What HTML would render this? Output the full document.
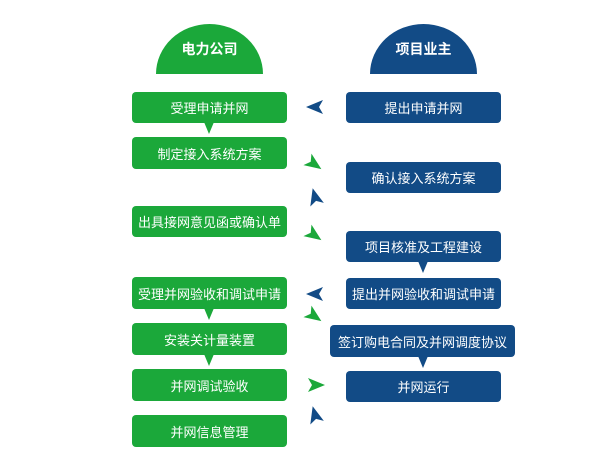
<!DOCTYPE html>
<html><head><meta charset="utf-8"><style>
body{margin:0;width:600px;height:459px;background:#fff;position:relative;overflow:hidden;font-family:"Liberation Sans","Noto Sans CJK SC",sans-serif}
.b{position:absolute;color:#fff;font-size:13px;display:flex;align-items:center;justify-content:center;border-radius:4px}
.g{background:#1ba83a;left:132px;width:155px}
.u{background:#124b86;left:346px;width:155px}
.h{position:absolute;color:#fff;font-weight:bold;font-size:14px;display:flex;align-items:center;justify-content:center;border-radius:50% 50% 0 0/100% 100% 0 0;height:50px;top:24px;width:107px}
svg{position:absolute;left:0;top:0}
</style></head><body>
<div class="h" style="left:156px;background:#1ba83a">电力公司</div>
<div class="h" style="left:370px;background:#124b86">项目业主</div>
<div class="b g" style="top:92px;height:31px">受理申请并网</div>
<div class="b g" style="top:137px;height:32px">制定接入系统方案</div>
<div class="b g" style="top:206px;height:31px">出具接网意见函或确认单</div>
<div class="b g" style="top:277px;height:32px">受理并网验收和调试申请</div>
<div class="b g" style="top:323px;height:32px">安装关计量装置</div>
<div class="b g" style="top:369px;height:32px">并网调试验收</div>
<div class="b g" style="top:415px;height:32px">并网信息管理</div>
<div class="b u" style="top:92px;height:31px">提出申请并网</div>
<div class="b u" style="top:162px;height:31px">确认接入系统方案</div>
<div class="b u" style="top:231px;height:31px">项目核准及工程建设</div>
<div class="b u" style="top:278px;height:31px">提出并网验收和调试申请</div>
<div class="b u" style="top:325px;height:32px;left:330px;width:185px">签订购电合同及并网调度协议</div>
<div class="b u" style="top:371px;height:31px">并网运行</div>
<svg width="600" height="459">
<defs><polygon id="a" points="-8,-7 9,0 -8,7 -4,0"/></defs>
<g fill="#1ba83a">
<polygon points="204,122 214,122 209,134"/>
<polygon points="204,308 214,308 209,320"/>
<polygon points="204,354 214,354 209,366"/>
<use href="#a" transform="translate(314,164) rotate(35)"/>
<use href="#a" transform="translate(314,235) rotate(35)"/>
<use href="#a" transform="translate(314,316) rotate(35)"/>
<use href="#a" transform="translate(316,385)"/>
</g>
<g fill="#124b86">
<polygon points="418,261 428,261 423,273"/>
<polygon points="418,356 428,356 423,368"/>
<use href="#a" transform="translate(315,107) rotate(180)"/>
<use href="#a" transform="translate(315,294) rotate(180)"/>
<use href="#a" transform="translate(315,197) rotate(-105)"/>
<use href="#a" transform="translate(315,415) rotate(-105)"/>
</g>
</svg>
</body></html>
